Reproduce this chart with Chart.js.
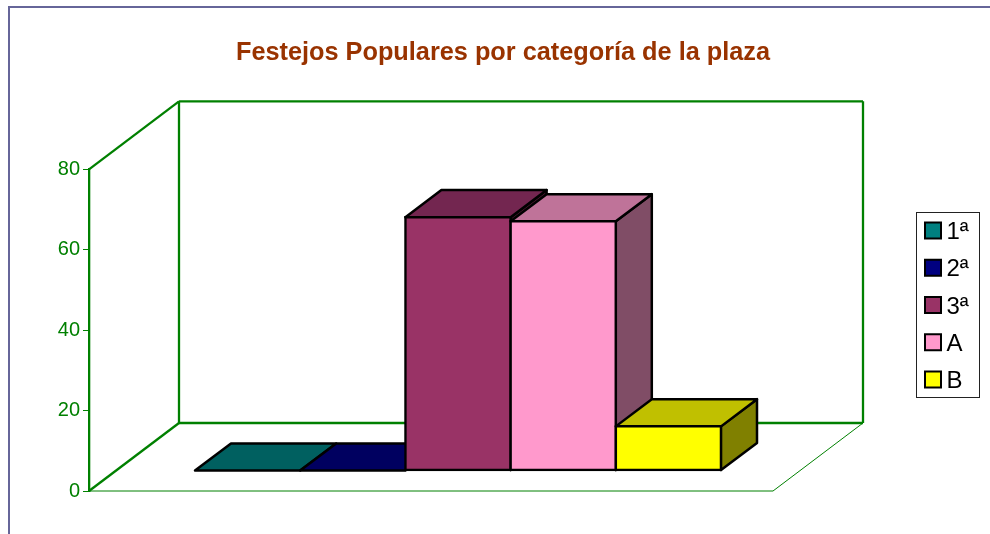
<!DOCTYPE html>
<html>
<head>
<meta charset="utf-8">
<script src="https://cdn.jsdelivr.net/npm/chart.js@4"></script>
<style>
  html, body { margin: 0; padding: 0; background: #fff; overflow: hidden; }
  #frame { position: absolute; left: 8px; top: 6px; right: 0; bottom: 0; border-left: 2px solid #666699; border-top: 2px solid #666699; }
  #chart { position: absolute; left: 0; top: 0; }
</style>
</head>
<body>
<div id="frame"></div>
<canvas id="chart" width="990" height="534"></canvas>
<script>
// --- Data ---
const categories = ['1ª', '2ª', '3ª', 'A', 'B'];
const festejos = [0, 0, 63, 62, 11];
const frontColors = ['#008080', '#000080', '#993366', '#FF99CC', '#FFFF00'];
const topColors = ['#006060', '#000060', '#732650', '#BF7399', '#C0C000'];
const sideColors = ['#004040', '#000040', '#4D1A33', '#804D66', '#808000'];
const yTicks = [0, 20, 40, 60, 80];

const GREEN = '#008000';
// how far the back wall sits behind the axis plane
const DEPTH_X = 90;
const DEPTH_Y = -68;

function line(ctx, x1, y1, x2, y2, width) {
  ctx.lineWidth = width;
  ctx.beginPath();
  ctx.moveTo(x1, y1);
  ctx.lineTo(x2, y2);
  ctx.stroke();
}

function poly(ctx, pts, fill) {
  ctx.fillStyle = fill;
  ctx.strokeStyle = '#000';
  ctx.lineWidth = 2.5;
  ctx.lineJoin = 'round';
  ctx.beginPath();
  pts.forEach((p, i) => (i ? ctx.lineTo(p[0], p[1]) : ctx.moveTo(p[0], p[1])));
  ctx.closePath();
  ctx.fill();
  ctx.stroke();
}

// --- 3D box look ---
const box3d = {
  id: 'box3d',
  afterLayout(chart) {
    // title is centred over the whole figure, not the plot
    chart.titleBlock.left = 236;
    chart.titleBlock.right = 770;
  },
  beforeDatasetsDraw(chart) {
    const { ctx, chartArea: a } = chart;
    ctx.save();
    ctx.strokeStyle = GREEN;
    line(ctx, a.left, a.top, a.left + DEPTH_X, a.top + DEPTH_Y, 2.3);
    line(ctx, a.left + DEPTH_X, a.top + DEPTH_Y, a.right + DEPTH_X, a.top + DEPTH_Y, 2.3);
    line(ctx, a.left + DEPTH_X, a.top + DEPTH_Y, a.left + DEPTH_X, a.bottom + DEPTH_Y, 2.3);
    line(ctx, a.right + DEPTH_X, a.top + DEPTH_Y, a.right + DEPTH_X, a.bottom + DEPTH_Y, 2.3);
    line(ctx, a.left + DEPTH_X, a.bottom + DEPTH_Y, a.right + DEPTH_X, a.bottom + DEPTH_Y, 2.3);
    line(ctx, a.left, a.bottom, a.left + DEPTH_X, a.bottom + DEPTH_Y, 2.3);
    line(ctx, a.left, a.bottom, a.right, a.bottom, 1);
    line(ctx, a.right, a.bottom, a.right + DEPTH_X, a.bottom + DEPTH_Y, 1);
    ctx.restore();

    // bars stand on the middle of the floor, painted left to right
    const dx = DEPTH_X * 0.4;
    const dy = DEPTH_Y * 0.4;
    ctx.save();
    ctx.translate(DEPTH_X * 0.3, DEPTH_Y * 0.3);
    chart.data.datasets.forEach((ds, i) => {
      const meta = chart.getDatasetMeta(i);
      const bar = meta.data[0];
      const half = bar.width / 2;
      const l = bar.x - half;
      const r = bar.x + half;
      const t = bar.y;
      const b = bar.base;
      if (b - t > 0) {
        poly(ctx, [[r, t], [r + dx, t + dy], [r + dx, b + dy], [r, b]], sideColors[i]);
      }
      poly(ctx, [[l, t], [l + dx, t + dy], [r + dx, t + dy], [r, t]], topColors[i]);
      if (b - t > 0) meta.controller.draw();
    });
    ctx.restore();
    return false;
  },
  afterDraw(chart) {
    const { ctx } = chart;
    ctx.save();
    ctx.strokeStyle = '#222';
    ctx.lineWidth = 1;
    ctx.strokeRect(916.5, 212.5, 63, 185);
    ctx.font = '24px "Liberation Sans"';
    ctx.textBaseline = 'alphabetic';
    chart.data.datasets.forEach((ds, i) => {
      const y = 222.5 + i * 37.25;
      ctx.fillStyle = ds.backgroundColor;
      ctx.strokeStyle = '#000';
      ctx.lineWidth = 2;
      ctx.fillRect(925, y, 16, 16);
      ctx.strokeRect(925, y, 16, 16);
      ctx.fillStyle = '#000';
      ctx.fillText(ds.label, 946.5, y + 16.5);
    });
    ctx.restore();
  }
};

new Chart(document.getElementById('chart'), {
  type: 'bar',
  data: {
    labels: [''],
    datasets: categories.map((c, i) => ({
      label: c,
      data: [festejos[i]],
      backgroundColor: frontColors[i],
      borderColor: '#000',
      borderWidth: 2.5,
      borderSkipped: false,
      inflateAmount: 1.25
    }))
  },
  options: {
    responsive: false,
    animation: false,
    layout: { autoPadding: false, padding: { left: 0, top: 0, right: 217, bottom: 43 } },
    datasets: { bar: { barPercentage: 1, categoryPercentage: 0.769 } },
    plugins: {
      legend: { display: false },
      tooltip: { enabled: false },
      title: {
        display: true,
        text: 'Festejos Populares por categoría de la plaza',
        color: '#993300',
        font: { family: '"Liberation Sans"', size: 25.3, weight: 'bold', lineHeight: 1.2 },
        padding: { top: 38, bottom: 101 }
      }
    },
    scales: {
      x: { display: false },
      y: {
        min: 0,
        max: 80,
        afterFit: (s) => { s.width = 89; },
        afterBuildTicks: (s) => { s.ticks = yTicks.map((v) => ({ value: v })); },
        grid: { drawOnChartArea: false, tickLength: 6, tickColor: GREEN, lineWidth: 1 },
        border: { color: GREEN, width: 2.3 },
        ticks: { color: GREEN, padding: 3, font: { family: '"Liberation Sans"', size: 20 } }
      }
    }
  },
  plugins: [box3d]
});
</script>
</body>
</html>
